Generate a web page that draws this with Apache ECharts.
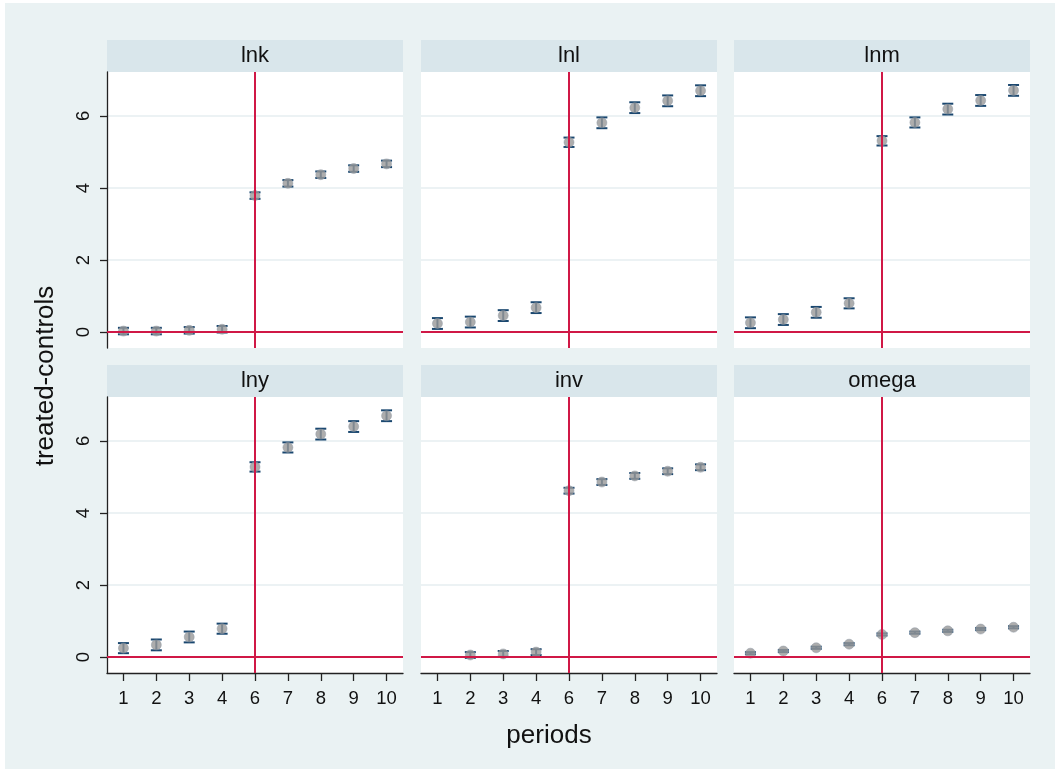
<!DOCTYPE html>
<html>
<head>
<meta charset="utf-8">
<script src="https://cdn.jsdelivr.net/npm/echarts@6/dist/echarts.min.js"></script>
<style>
html,body{margin:0;padding:0;background:#ffffff;}
#chart{position:absolute;left:5px;top:3px;width:1050px;height:766px;}
</style>
</head>
<body>
<div id="chart"></div>
<script>
// ---- data ----
const periods = ['1','2','3','4','6','7','8','9','10'];
const panelNames = ['lnk','lnl','lnm','lny','inv','omega'];
const yTicks = [0, 2, 4, 6];
const treatPeriod = '6';

const lnk      = [0.03, 0.03, 0.05, 0.08, 3.79, 4.13, 4.37, 4.54, 4.67];
const lnkErr   = [0.09, 0.09, 0.09, 0.09, 0.09, 0.09, 0.09, 0.09, 0.09];
const lnl      = [0.24, 0.28, 0.46, 0.68, 5.27, 5.81, 6.23, 6.42, 6.70];
const lnlErr   = [0.15, 0.15, 0.15, 0.15, 0.13, 0.15, 0.15, 0.15, 0.15];
const lnm      = [0.26, 0.35, 0.55, 0.80, 5.31, 5.82, 6.19, 6.43, 6.71];
const lnmErr   = [0.15, 0.15, 0.15, 0.14, 0.13, 0.14, 0.15, 0.15, 0.15];
const lny      = [0.25, 0.34, 0.56, 0.79, 5.28, 5.82, 6.19, 6.40, 6.70];
const lnyErr   = [0.14, 0.15, 0.15, 0.14, 0.13, 0.14, 0.15, 0.15, 0.15];
const inv      = [null, 0.06, 0.09, 0.14, 4.62, 4.86, 5.03, 5.16, 5.27];
const invErr   = [null, 0.08, 0.08, 0.08, 0.08, 0.08, 0.08, 0.08, 0.08];
const omega    = [0.11, 0.17, 0.26, 0.36, 0.63, 0.68, 0.73, 0.78, 0.83];
const omegaErr = [0.03, 0.03, 0.03, 0.03, 0.03, 0.03, 0.03, 0.03, 0.03];

const means = [lnk, lnl, lnm, lny, inv, omega];
const errs  = [lnkErr, lnlErr, lnmErr, lnyErr, invErr, omegaErr];

// ---- layout / style ----
const OX = 5, OY = 3;
const colLeft = [107, 421, 734];
const rowTop = [72, 397];
const plotW = 296, plotH = 276, stripH = 32;
const FONT = '"Liberation Sans", Arial, sans-serif';
const RED = '#d01846';
const NAVY = '#1a476f';
const GREY = '#999999';

const grids = [], xAxes = [], yAxes = [], series = [], graphics = [];

panelNames.forEach((name, i) => {
  const col = i % 3, row = Math.floor(i / 3);
  const left = colLeft[col] - OX, top = rowTop[row] - OY;
  grids.push({left: left, top: top, width: plotW, height: plotH,
    show: true, backgroundColor: '#ffffff', borderWidth: 0});
  const bottomRow = row === 1;
  xAxes.push({
    type: 'category', gridIndex: i, data: periods, boundaryGap: true,
    axisLine: {show: bottomRow, onZero: false, lineStyle: {color: '#222', width: 1.3}},
    axisTick: {show: bottomRow, alignWithLabel: true, length: 8, lineStyle: {color: '#222', width: 1.3}},
    axisLabel: {show: bottomRow, color: '#111', fontSize: 18.5, fontFamily: FONT, margin: 16},
    splitLine: {show: false}
  });
  const leftCol = col === 0;
  yAxes.push({
    type: 'value', gridIndex: i, min: -0.44, max: 7.22,
    axisLine: {show: leftCol, lineStyle: {color: '#222', width: 1.3}},
    axisTick: {show: leftCol, length: 7, customValues: yTicks, lineStyle: {color: '#222', width: 1.3}},
    axisLabel: {show: leftCol, customValues: yTicks, rotate: 90, color: '#111', fontSize: 18.5, fontFamily: FONT, margin: 14},
    splitLine: {show: true, lineStyle: {color: '#e6eef1', width: 1.5}}
  });
  // reference lines
  series.push({
    type: 'scatter', xAxisIndex: i, yAxisIndex: i, data: [], z: 1, silent: true,
    markLine: {silent: true, symbol: 'none', animation: false,
      label: {show: false},
      lineStyle: {color: RED, width: 2, type: 'solid'},
      data: [{yAxis: 0}, {xAxis: treatPeriod}]}
  });
  // error bars
  const m = means[i], e = errs[i];
  const ebData = periods.map((p, k) => m[k] == null ? [k, NaN, NaN] : [k, m[k] - e[k], m[k] + e[k]]);
  series.push({
    type: 'custom', xAxisIndex: i, yAxisIndex: i, z: 3, silent: true,
    data: ebData,
    renderItem: function (params, api) {
      const lo = api.value(1), hi = api.value(2);
      if (isNaN(lo) || isNaN(hi)) return null;
      const pLo = api.coord([api.value(0), lo]);
      const pHi = api.coord([api.value(0), hi]);
      const hw = 5.5;
      const st = {stroke: NAVY, lineWidth: 2};
      return {type: 'group', children: [
        {type: 'line', shape: {x1: pLo[0], y1: pLo[1], x2: pHi[0], y2: pHi[1]}, style: st},
        {type: 'line', shape: {x1: pLo[0] - hw, y1: pLo[1], x2: pLo[0] + hw, y2: pLo[1]}, style: st},
        {type: 'line', shape: {x1: pHi[0] - hw, y1: pHi[1], x2: pHi[0] + hw, y2: pHi[1]}, style: st}
      ]};
    }
  });
  // point estimates
  series.push({
    type: 'scatter', xAxisIndex: i, yAxisIndex: i, z: 4, silent: true,
    symbol: 'circle', symbolSize: 10,
    itemStyle: {color: GREY, borderColor: '#8d98a4', borderWidth: 0.6},
    data: periods.map((p, k) => m[k] == null ? [k, '-'] : [k, m[k]])
  });
  // strip header
  graphics.push({type: 'rect', shape: {x: left, y: top - stripH, width: plotW, height: stripH},
    style: {fill: '#d9e6eb'}, silent: true});
  graphics.push({type: 'text', x: left + plotW / 2, y: top - stripH / 2,
    style: {text: name, fill: '#111', font: '22px ' + FONT, textAlign: 'center', textVerticalAlign: 'middle'}, silent: true});
});

graphics.push({type: 'text', x: 549 - OX, y: 736 - OY,
  style: {text: 'periods', fill: '#111', font: '26px ' + FONT, textAlign: 'center', textVerticalAlign: 'middle'}, silent: true});
graphics.push({type: 'text', x: 46 - OX, y: 376 - OY, rotation: Math.PI / 2,
  style: {text: 'treated-controls', fill: '#111', font: '26px ' + FONT, textAlign: 'center', textVerticalAlign: 'middle'}, silent: true});

const chart = echarts.init(document.getElementById('chart'), null, {renderer: 'canvas'});
chart.setOption({
  animation: false,
  backgroundColor: '#eaf2f3',
  grid: grids,
  xAxis: xAxes,
  yAxis: yAxes,
  series: series,
  graphic: {elements: graphics}
});
</script>
</body>
</html>
